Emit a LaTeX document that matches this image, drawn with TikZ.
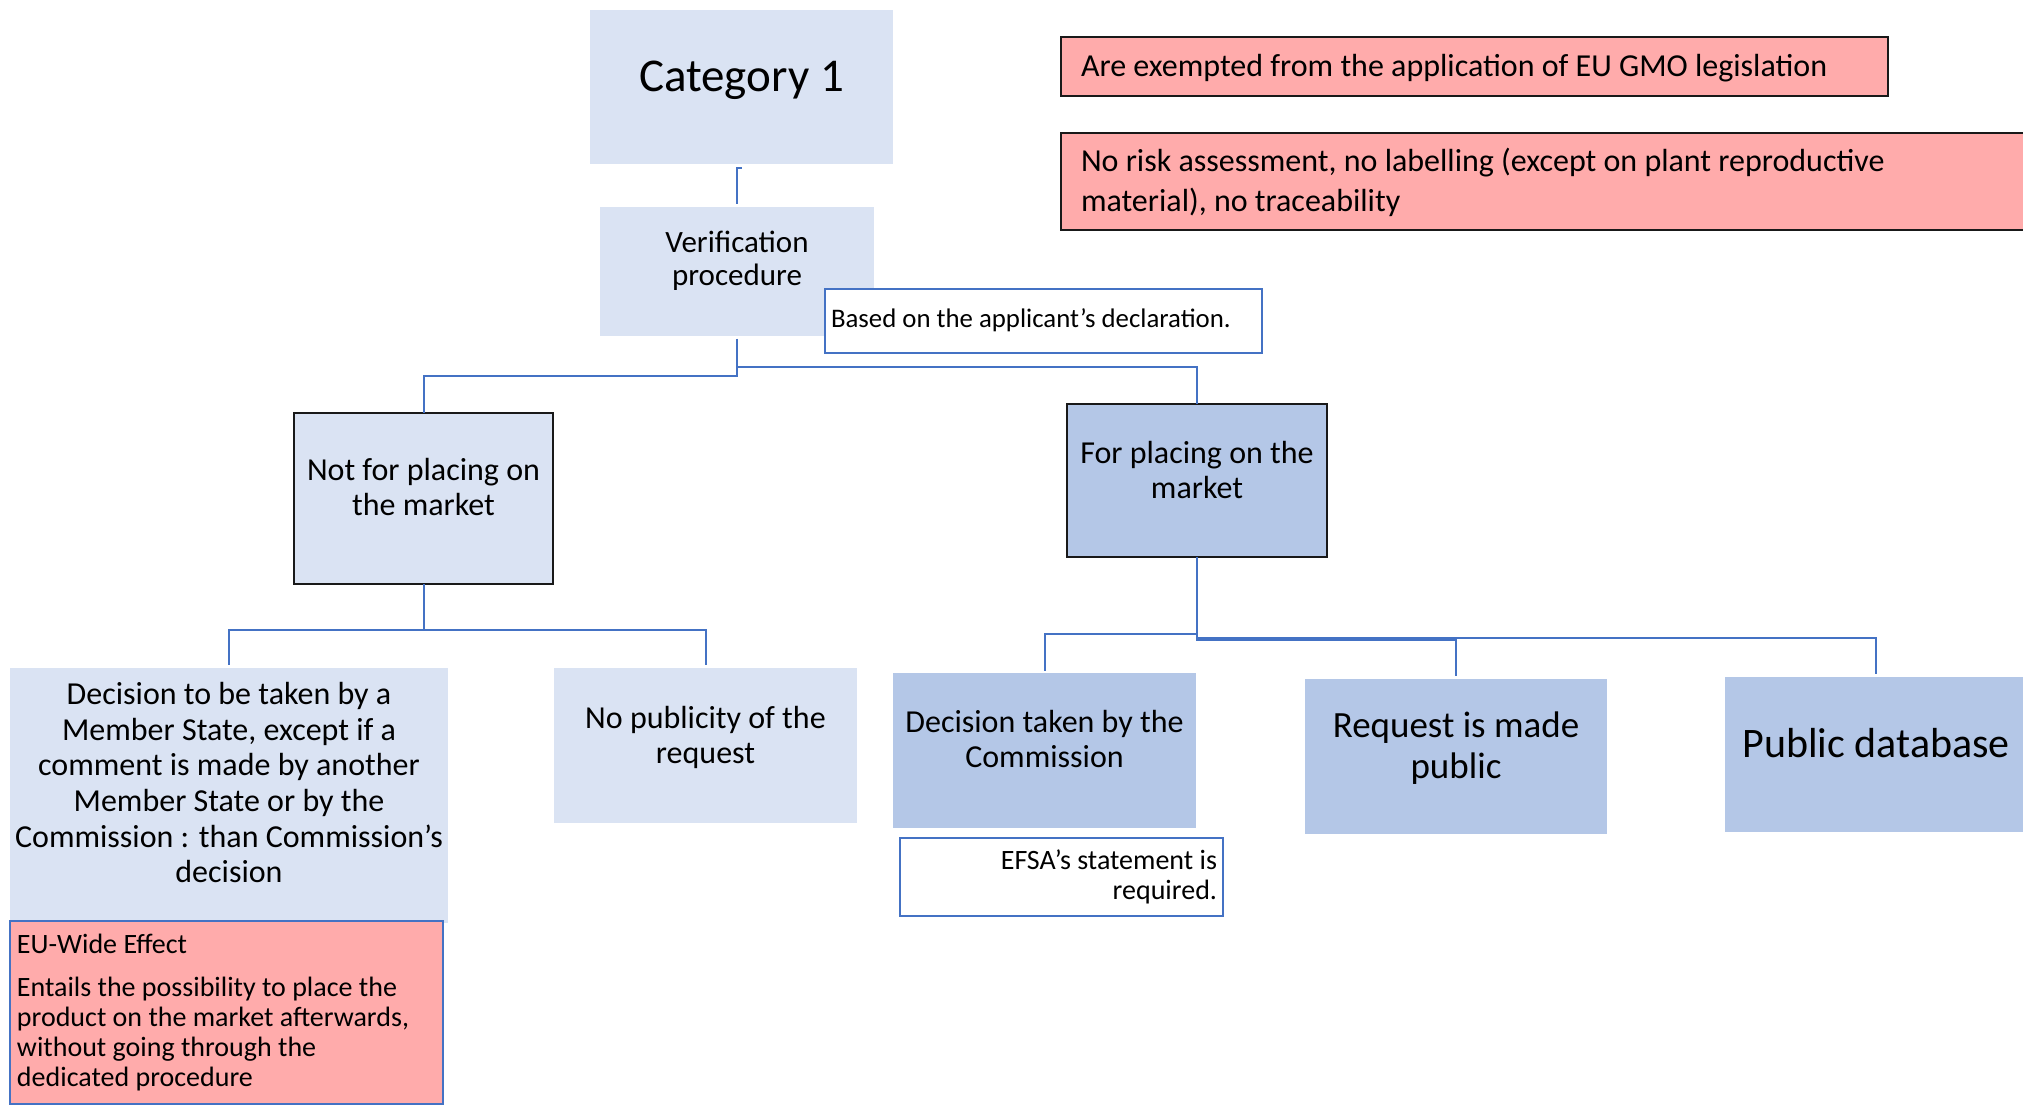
\documentclass[tikz,border=0pt]{standalone}
\usepackage{fontspec}
\setmainfont{Carlito}
\usetikzlibrary{calc}
\definecolor{lb}{HTML}{DAE3F3}
\definecolor{mb}{HTML}{B4C7E7}
\definecolor{pk}{HTML}{FFABAB}
\definecolor{cn}{HTML}{4472C4}
\newcommand{\fs}[2]{\fontsize{#1}{#2}\selectfont}
\newcommand{\ctxt}[2][4pt]{\raisebox{#1}[\height][\depth]{\begin{tabular}{@{}c@{}}#2\end{tabular}}}
\newcommand{\ltxt}[3][0pt]{\makebox[#2][l]{\raisebox{#1}[\height][\depth]{\begin{tabular}{@{}l@{}}#3\end{tabular}}}}
\newcommand{\rtxt}[3][0pt]{\makebox[#2][r]{\raisebox{#1}[\height][\depth]{\begin{tabular}{@{}r@{}}#3\end{tabular}}}}
\tikzset{
  box/.style={rectangle, inner sep=0pt, outer sep=0pt},
  lbox/.style={box, fill=lb},
  mbox/.style={box, fill=mb},
  kbox/.style={box, draw=black!90, line width=1.35pt},
  wbox/.style={box, fill=white, draw=cn, line width=1pt},
  pbox/.style={box, fill=pk, draw=black!90, line width=1pt},
  conn/.style={draw=cn, line width=1pt},
}
\begin{document}
\begin{tikzpicture}[x=0.5pt,y=-0.5pt]
\clip (0,0) rectangle (2023,1106);
\fill[white] (0,0) rectangle (2023,1106);

% top pink notes
\node[pbox, minimum width=413.5pt, minimum height=29.5pt, inner xsep=10pt, font=\fs{16pt}{17.5pt}] (pk1) at (1474.5,66.5)
  {\ltxt[-1.3pt]{393.5pt}{Are exempted from the application of EU GMO legislation}};
\node[pbox, minimum width=490pt, minimum height=48.5pt, inner xsep=10pt, font=\fs{16pt}{20pt}] (pk2) at (1551,181.5)
  {\ltxt[-0.8pt]{470pt}{No risk assessment, no labelling (except on plant reproductive\\material), no traceability}};

% main tree
\node[lbox, minimum width=151.5pt, minimum height=77pt, font=\fs{23.5pt}{25.8pt}] (cat1) at (741.5,87) {\ctxt[3pt]{Category 1}};
\node[lbox, minimum width=137pt, minimum height=64.5pt, font=\fs{15.5pt}{16.5pt}] (verif) at (737,271.5) {\ctxt[4.5pt]{Verification\\procedure}};
\node[wbox, minimum width=218.5pt, minimum height=32pt, inner xsep=3pt, font=\fs{13.4pt}{14.6pt}] (based) at (1043.5,321)
  {\ltxt[-0.4pt]{212.5pt}{Based on the applicant’s declaration.}};

\node[kbox, fill=lb, minimum width=129.5pt, minimum height=85.5pt, font=\fs{16pt}{17.5pt}] (notfor) at (423.5,498.5) {\ctxt[3.5pt]{Not for placing on\\the market}};
\node[kbox, fill=mb, minimum width=130pt, minimum height=76.5pt, font=\fs{16pt}{17.5pt}] (forpl) at (1197,480.5) {\ctxt[3.3pt]{For placing on the\\market}};

\node[lbox, minimum width=219pt, minimum height=127.5pt, font=\fs{16pt}{17.8pt}] (decms) at (229,795.5)
  {\ctxt[4.5pt]{Decision to be taken by a\\Member State, except if a\\comment is made by another\\Member State or by the\\Commission : than Commission’s\\decision}};
\node[box, fill=pk, draw=cn, line width=1pt, minimum width=216.5pt, minimum height=91.5pt, inner xsep=3.5pt, font=\fs{14pt}{15pt}] (eu) at (226.5,1012.5)
  {\ltxt[-0.5pt]{209.5pt}{EU-Wide Effect\\[6.5pt]Entails the possibility to place the\\product on the market afterwards,\\without going through the\\dedicated procedure}};
\node[lbox, minimum width=151.5pt, minimum height=77.5pt, font=\fs{16pt}{17.5pt}] (nopub) at (705.5,745.5) {\ctxt[3.5pt]{No publicity of the\\request}};

\node[mbox, minimum width=151.5pt, minimum height=77.5pt, font=\fs{16pt}{17.5pt}] (dc) at (1044.5,750.5) {\ctxt[4pt]{Decision taken by the\\Commission}};
\node[wbox, line width=1.3pt, minimum width=161.5pt, minimum height=39pt, inner xsep=3pt, font=\fs{14pt}{15pt}] (efsa) at (1061.5,877)
  {\rtxt[-0.5pt]{155.5pt}{EFSA’s statement is\\required.}};
\node[mbox, minimum width=151pt, minimum height=77.5pt, font=\fs{18.5pt}{20.5pt}] (req) at (1456,756.5) {\ctxt[3.3pt]{Request is made\\public}};
\node[mbox, minimum width=151pt, minimum height=77.5pt, font=\fs{21pt}{23pt}] (pd) at (1876,754.5) {\ctxt[3pt]{Public database}};

% connectors
\draw[conn] ($(cat1.south)+(0,4)$) -| ($(verif.north)+(0,-3)$);
\draw[conn] ($(verif.south)+(0,3)$) -- ($(verif.south)+(0,40)$) -| (notfor.north);
\draw[conn] ($(verif.south)+(0,3)$) -- ($(verif.south)+(0,31)$) -| (forpl.north);
\draw[conn] (notfor.south) -- ($(notfor.south)+(0,46)$) -| ($(decms.north)+(0,-3)$);
\draw[conn] (notfor.south) -- ($(notfor.south)+(0,46)$) -| ($(nopub.north)+(0,-3)$);
\draw[conn] (forpl.south) -- ($(forpl.south)+(0,77)$) -| ($(dc.north)+(0,-2)$);
\draw[conn] (forpl.south) -- ($(forpl.south)+(0,83)$) -| ($(req.north)+(0,-3)$);
\draw[conn] (forpl.south) -- ($(forpl.south)+(0,81)$) -| ($(pd.north)+(0,-3)$);
\end{tikzpicture}
\end{document}
